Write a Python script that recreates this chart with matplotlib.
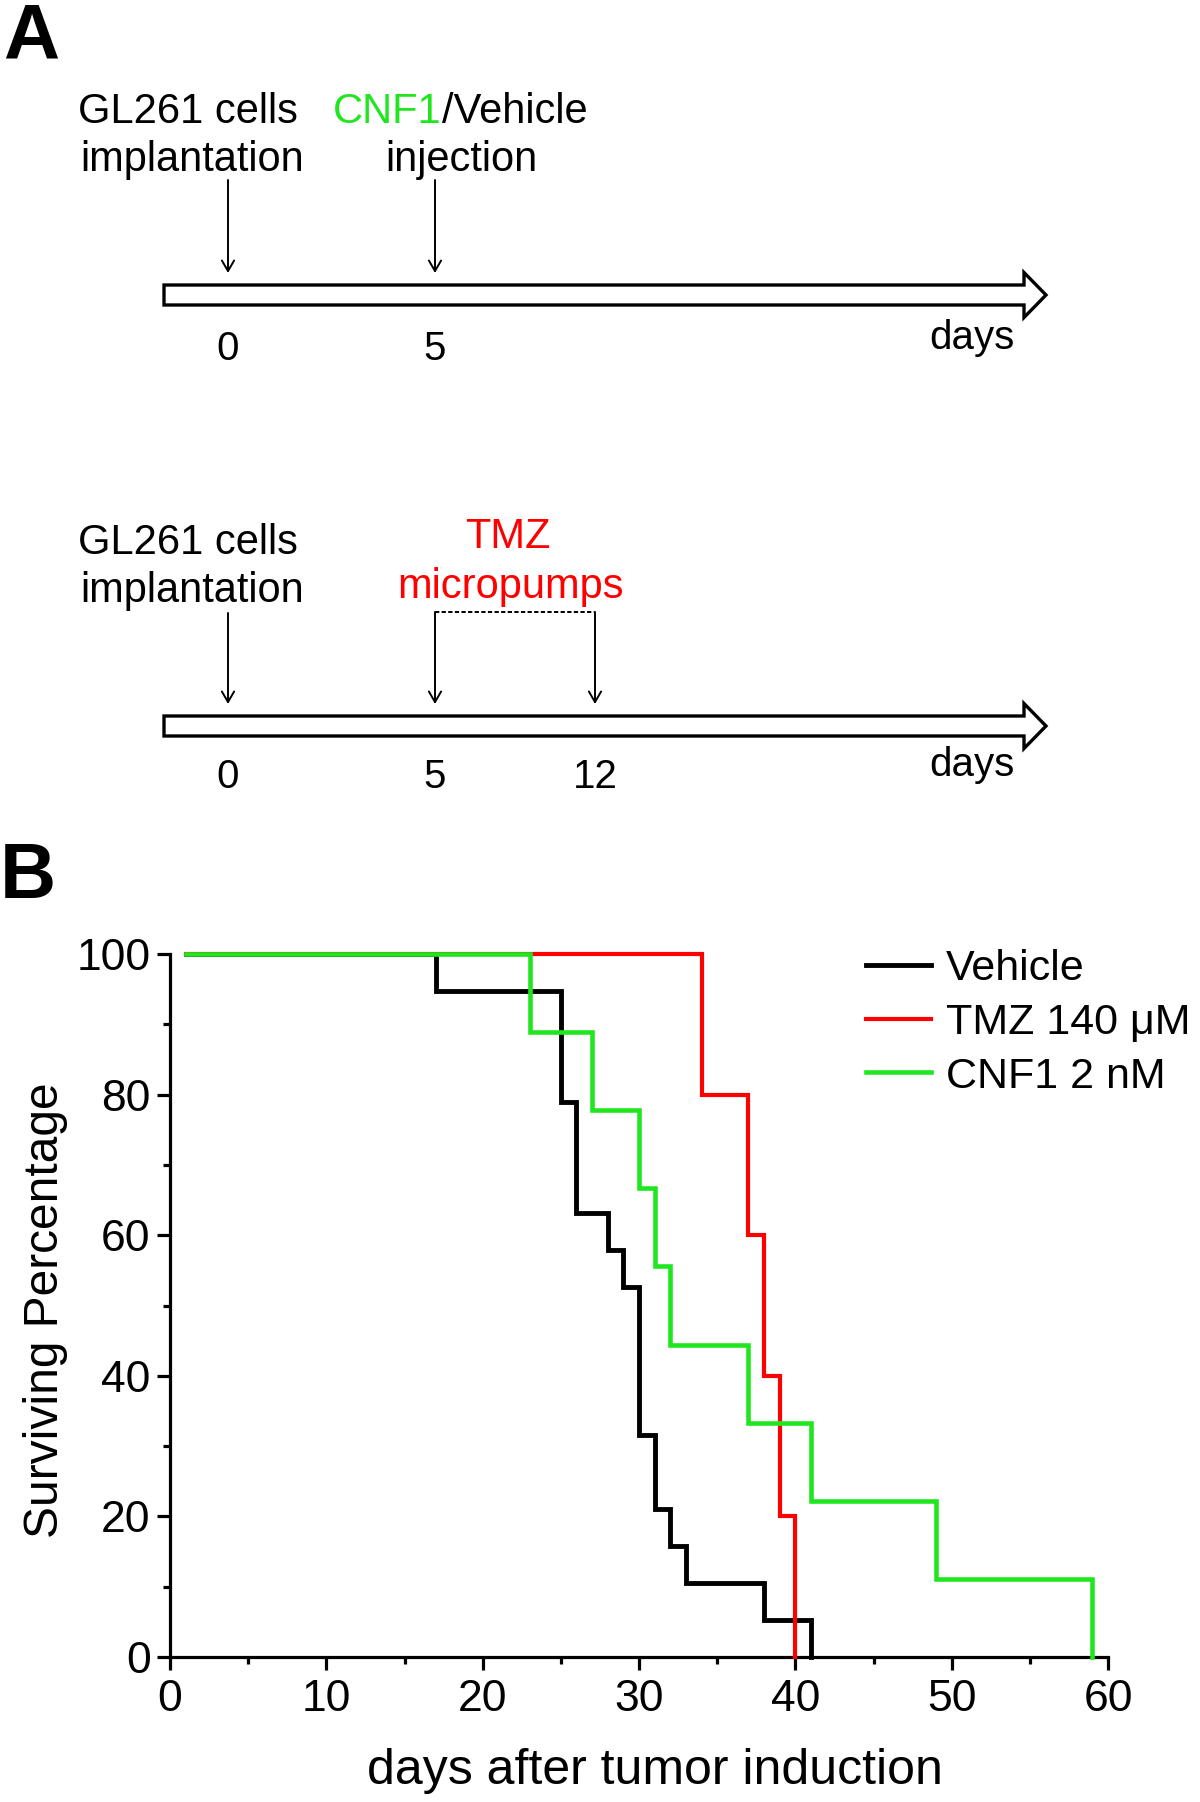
import matplotlib
matplotlib.use("Agg")
import matplotlib.pyplot as plt
from matplotlib.patches import Polygon

# ---------------- data (panel B: Kaplan-Meier survival) ----------------
vehicle_days = [1, 17, 25, 26, 28, 29, 30, 31, 32, 33, 38, 41]
vehicle_surv = [100, 94.7, 78.9, 63.2, 57.9, 52.6, 31.6, 21.1, 15.8, 10.5, 5.3, 0]
tmz_days = [1, 34, 37, 38, 39, 40]
tmz_surv = [100, 80, 60, 40, 20, 0]
cnf1_days = [1, 23, 27, 30, 31, 32, 37, 41, 49, 59]
cnf1_surv = [100, 88.9, 77.8, 66.7, 55.6, 44.4, 33.3, 22.2, 11.1, 0]
series_labels = ["Vehicle", "TMZ 140 \u03bcM", "CNF1 2 nM"]
x_ticks = [0, 10, 20, 30, 40, 50, 60]
x_minor_ticks = [5, 15, 25, 35, 45, 55]
y_ticks = [0, 20, 40, 60, 80, 100]
y_minor_ticks = [10, 30, 50, 70, 90]
x_label = "days after tumor induction"
y_label = "Surviving Percentage"

# ---------------- data (panel A: schematic timelines) ----------------
timeline1_days = ["0", "5"]
timeline2_days = ["0", "5", "12"]
implant_label = ["GL261 cells", "implantation"]
inject_label = ["CNF1", "/Vehicle", "injection"]
tmz_label = ["TMZ", "micropumps"]
axis_word = "days"

# ---------------- style / layout ----------------
GREEN = "#1FE61F"
RED = "#FF0000"
FONT = ["Liberation Sans", "DejaVu Sans"]
plt.rcParams["font.family"] = FONT

W, H = 1200, 1802
fig = plt.figure(figsize=(W / 100, H / 100), dpi=100)

# Panel A drawn in a full-figure pixel-coordinate axes
axA = fig.add_axes([0, 0, 1, 1])
axA.set_xlim(0, W)
axA.set_ylim(H, 0)
axA.axis("off")

day_x = {"0": 228, "5": 435, "12": 595}
TXT = 30
NUM = 29


def label(x, y, s, size=TXT, color="black", ha="center", weight="normal"):
    return axA.text(x, y, s, fontsize=size, color=color, ha=ha, va="baseline",
                    fontweight=weight)


def block_arrow(cy):
    x0, xb, xt = 164, 1024, 1046
    hb, hh = 10, 22.5
    pts = [(x0, cy - hb), (xb, cy - hb), (xb, cy - hh), (xt, cy),
           (xb, cy + hh), (xb, cy + hb), (x0, cy + hb)]
    axA.add_patch(Polygon(pts, closed=True, facecolor="white", edgecolor="black",
                          lw=2.4, joinstyle="miter"))


def down_arrow(x, y0, y1):
    axA.annotate("", xy=(x, y1), xytext=(x, y0),
                 arrowprops=dict(arrowstyle="->,head_length=0.38,head_width=0.22",
                                 lw=1.4, color="black", shrinkA=0, shrinkB=0,
                                 mutation_scale=20))


# panel letters
label(3, 58, "A", size=56, ha="left", weight="bold")
label(0, 898, "B", size=56, ha="left", weight="bold")

# ---- timeline 1 ----
c1 = 295
block_arrow(c1)
label(188, 123, implant_label[0])
label(192, 171, implant_label[1])
t_cnf = label(333, 123, inject_label[0], color=GREEN, ha="left")
axA.annotate(inject_label[1], xy=(1, 0), xycoords=t_cnf, ha="left", va="bottom",
             fontsize=TXT, color="black")
label(461, 171, inject_label[2])
down_arrow(day_x["0"], 180, 273)
down_arrow(day_x["5"], 180, 273)
for d in timeline1_days:
    label(day_x[d], 360, d, size=NUM)
label(972, 349, axis_word, size=NUM)

# ---- timeline 2 ----
c2 = 726
block_arrow(c2)
label(188, 554, implant_label[0])
label(192, 602, implant_label[1])
label(508, 548, tmz_label[0], color=RED)
label(510, 598, tmz_label[1], color=RED)
axA.plot([day_x["5"], day_x["12"]], [612, 612], color="black", lw=1.4,
         ls=(0, (2.2, 1.2)))
down_arrow(day_x["0"], 613, 704)
down_arrow(day_x["5"], 612, 704)
down_arrow(day_x["12"], 612, 704)
for d in timeline2_days:
    label(day_x[d], 788, d, size=NUM)
label(972, 776, axis_word, size=NUM)

# ---------------- Panel B ----------------
ax = fig.add_axes([170 / W, (H - 1657) / H, 938 / W, 703 / H])
l1, = ax.step(vehicle_days, vehicle_surv, where="post", color="black", lw=3.5,
              clip_on=False, zorder=3, solid_joinstyle="miter")
l2, = ax.step(tmz_days, tmz_surv, where="post", color=RED, lw=3.0,
              clip_on=False, zorder=4, solid_joinstyle="miter")
l3, = ax.step(cnf1_days, cnf1_surv, where="post", color=GREEN, lw=3.3,
              clip_on=False, zorder=5, solid_joinstyle="miter")
ax.set_xlim(0, 60)
ax.set_ylim(0, 100)
for s in ["top", "right"]:
    ax.spines[s].set_visible(False)
for s in ["left", "bottom"]:
    ax.spines[s].set_linewidth(2.3)
ax.set_xticks(x_ticks)
ax.set_xticks(x_minor_ticks, minor=True)
ax.set_yticks(y_ticks)
ax.set_yticks(y_minor_ticks, minor=True)
ax.tick_params(axis="both", which="major", direction="out", length=9.5, width=2.3)
ax.tick_params(axis="both", which="minor", direction="out", length=5, width=2.3)
ax.tick_params(axis="x", which="major", labelsize=32, pad=6.5)
ax.tick_params(axis="y", which="major", labelsize=32, pad=4.5)

ax.legend([l1, l2, l3], series_labels, loc="upper left",
          bbox_to_anchor=(866 / W, 1 - 949 / H), bbox_transform=fig.transFigure,
          frameon=False, fontsize=31, handlelength=1.5, handletextpad=0.36,
          labelspacing=0.32, borderpad=0, borderaxespad=0)

fig.text(46 / W, 1 - 1310 / H, y_label, rotation=90, ha="center", va="center",
         fontsize=34.5)
fig.text(655 / W, 1 - 1784 / H, x_label, ha="center", va="baseline", fontsize=36)

fig.savefig("out.png", dpi=100)
